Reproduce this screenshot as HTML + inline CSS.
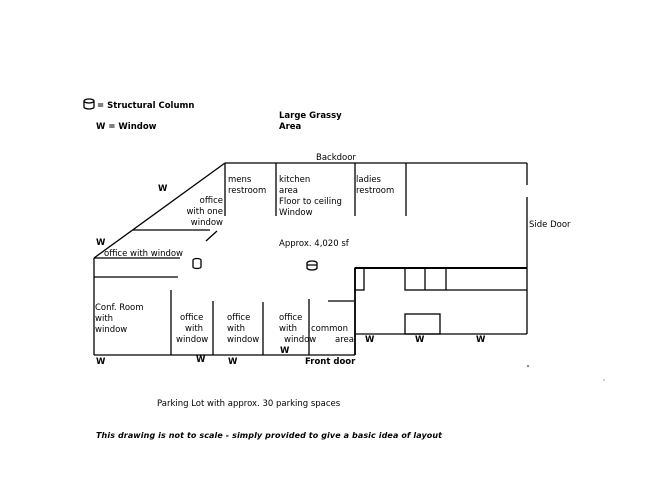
<!DOCTYPE html>
<html><head><style>
body{margin:0;background:#fff;}
svg{display:block;font-family:"DejaVu Sans","Liberation Sans",sans-serif;font-size:8.5px;}
.b{font-weight:bold;}
</style></head><body>
<svg width="650" height="500" viewBox="0 0 650 500">
<g stroke="#000" stroke-width="1.3" fill="none">
<path d="M84 101 a5 2 0 0 1 10 0 v6 a5 2 0 0 1 -10 0 z M84 101 a5 2 0 0 0 10 0"/>
<line x1="225" y1="163" x2="527" y2="163"/>
<line x1="225" y1="163" x2="94" y2="258"/>
<line x1="94" y1="258" x2="94" y2="355"/>
<line x1="94" y1="355" x2="355" y2="355"/>
<line x1="527" y1="163" x2="527" y2="185"/>
<line x1="527" y1="197" x2="527" y2="334"/>
<line x1="225" y1="163" x2="225" y2="216"/>
<line x1="276" y1="163" x2="276" y2="216"/>
<line x1="355" y1="163" x2="355" y2="216"/>
<line x1="406" y1="163" x2="406" y2="216"/>
<line x1="133" y1="230" x2="210" y2="230"/>
<line x1="206" y1="241" x2="217" y2="231"/>
<line x1="94" y1="258" x2="180" y2="258"/>
<line x1="94" y1="277" x2="178" y2="277"/>
<line x1="171" y1="290" x2="171" y2="355"/>
<line x1="213" y1="301" x2="213" y2="355"/>
<line x1="263" y1="302" x2="263" y2="355"/>
<line x1="309" y1="299" x2="309" y2="355"/>
<line x1="328" y1="301" x2="354" y2="301"/>
<line x1="355" y1="268" x2="527" y2="268" stroke-width="2"/>
<line x1="355" y1="268" x2="355" y2="355" stroke-width="1.8"/>
<line x1="355" y1="334" x2="527" y2="334"/>
<rect x="355" y="268" width="9" height="22"/>
<rect x="405" y="268" width="41" height="22"/>
<line x1="425" y1="268" x2="425" y2="290"/>
<line x1="446" y1="290" x2="527" y2="290"/>
<rect x="405" y="314" width="35" height="20"/>
<path d="M193 260 a4 1.5 0 0 1 8 0 v7 a4 1.5 0 0 1 -8 0 z"/>
<path d="M307 263 a5 2 0 0 1 10 0 v5 a5 2 0 0 1 -10 0 z M307 265 h10"/>
</g>
<g fill="#000">
<text x="97" y="108" class="b">= Structural Column</text>
<text x="96" y="129" class="b">W = Window</text>
<text x="279" y="118" class="b">Large Grassy</text>
<text x="279" y="129" class="b">Area</text>
<text x="316" y="160">Backdoor</text>
<text x="228" y="182">mens</text><text x="228" y="193">restroom</text>
<text x="279" y="182">kitchen</text><text x="279" y="193">area</text><text x="279" y="204">Floor to ceiling</text><text x="279" y="215">Window</text>
<text x="356" y="182">ladies</text><text x="356" y="193">restroom</text>
<text x="158" y="191" class="b">W</text>
<text x="223" y="203" text-anchor="end">office</text><text x="223" y="214" text-anchor="end">with one</text><text x="223" y="225" text-anchor="end">window</text>
<text x="96" y="245" class="b">W</text>
<text x="104" y="256">office with window</text>
<text x="279" y="246">Approx. 4,020 sf</text>
<text x="529" y="227">Side Door</text>
<text x="95" y="310">Conf. Room</text><text x="95" y="321">with</text><text x="95" y="332">window</text>
<text x="180" y="320">office</text><text x="185" y="331">with</text><text x="176" y="342">window</text>
<text x="227" y="320">office</text><text x="227" y="331">with</text><text x="227" y="342">window</text>
<text x="279" y="320">office</text><text x="279" y="331">with</text><text x="284" y="342">window</text><text x="280" y="353" class="b">W</text>
<text x="311" y="331">common</text><text x="335" y="342">area</text>
<text x="96" y="364" class="b">W</text>
<text x="196" y="362" class="b">W</text>
<text x="228" y="364" class="b">W</text>
<text x="305" y="364" class="b">Front door</text>
<text x="365" y="342" class="b">W</text>
<text x="415" y="342" class="b">W</text>
<text x="476" y="342" class="b">W</text>
<text x="157" y="406">Parking Lot with approx. 30 parking spaces</text>
<text x="96" y="438" class="b" font-style="italic" font-size="8" letter-spacing="0.1">This drawing is not to scale - simply provided to give a basic idea of layout</text>
<circle cx="528" cy="366" r="0.8"/>
<circle cx="604" cy="380" r="0.5"/>
</g>
</svg>
</body></html>
